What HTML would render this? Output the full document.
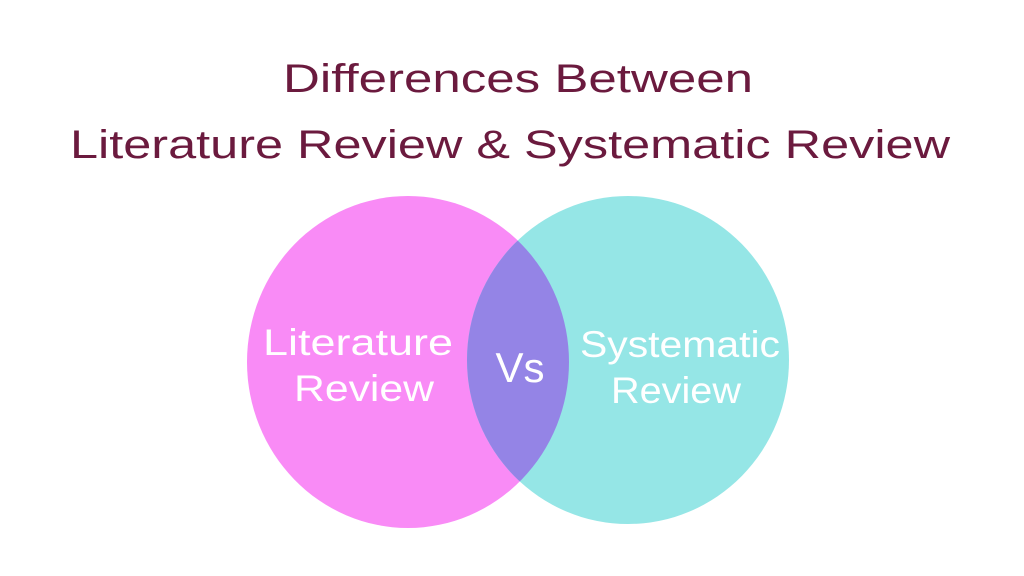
<!DOCTYPE html>
<html><head><meta charset="utf-8"><style>
html,body{margin:0;padding:0;background:#fff;}
svg{display:block;}
</style></head><body>
<svg width="1024" height="576" viewBox="0 0 1024 576" xmlns="http://www.w3.org/2000/svg">
<rect width="1024" height="576" fill="#fff"/>
<g font-family="'Liberation Sans', 'DejaVu Sans', sans-serif" fill="#6b1a3e" text-anchor="middle">
<text x="518" y="92" font-size="40" textLength="470" lengthAdjust="spacingAndGlyphs">Differences Between</text>
<text x="510" y="158" font-size="40" textLength="880" lengthAdjust="spacingAndGlyphs">Literature Review &amp; Systematic Review</text>
</g>
<defs>
<clipPath id="lc"><ellipse cx="408" cy="362" rx="161" ry="166"/></clipPath>
</defs>
<ellipse cx="408" cy="362" rx="161" ry="166" fill="#f98bf6"/>
<ellipse cx="628" cy="360" rx="161" ry="164" fill="#95e6e6"/>
<ellipse cx="628" cy="360" rx="161" ry="164" fill="#9484e6" clip-path="url(#lc)"/>
<g font-family="'Liberation Sans', 'DejaVu Sans', sans-serif" fill="#fff" text-anchor="middle" font-size="37">
<text x="358" y="355" textLength="190" lengthAdjust="spacingAndGlyphs">Literature</text>
<text x="364" y="401" textLength="140" lengthAdjust="spacingAndGlyphs">Review</text>
<text x="520" y="382" font-size="42">Vs</text>
<text x="680" y="357" textLength="200" lengthAdjust="spacingAndGlyphs">Systematic</text>
<text x="676" y="403" textLength="130" lengthAdjust="spacingAndGlyphs">Review</text>
</g>
</svg>
</body></html>
